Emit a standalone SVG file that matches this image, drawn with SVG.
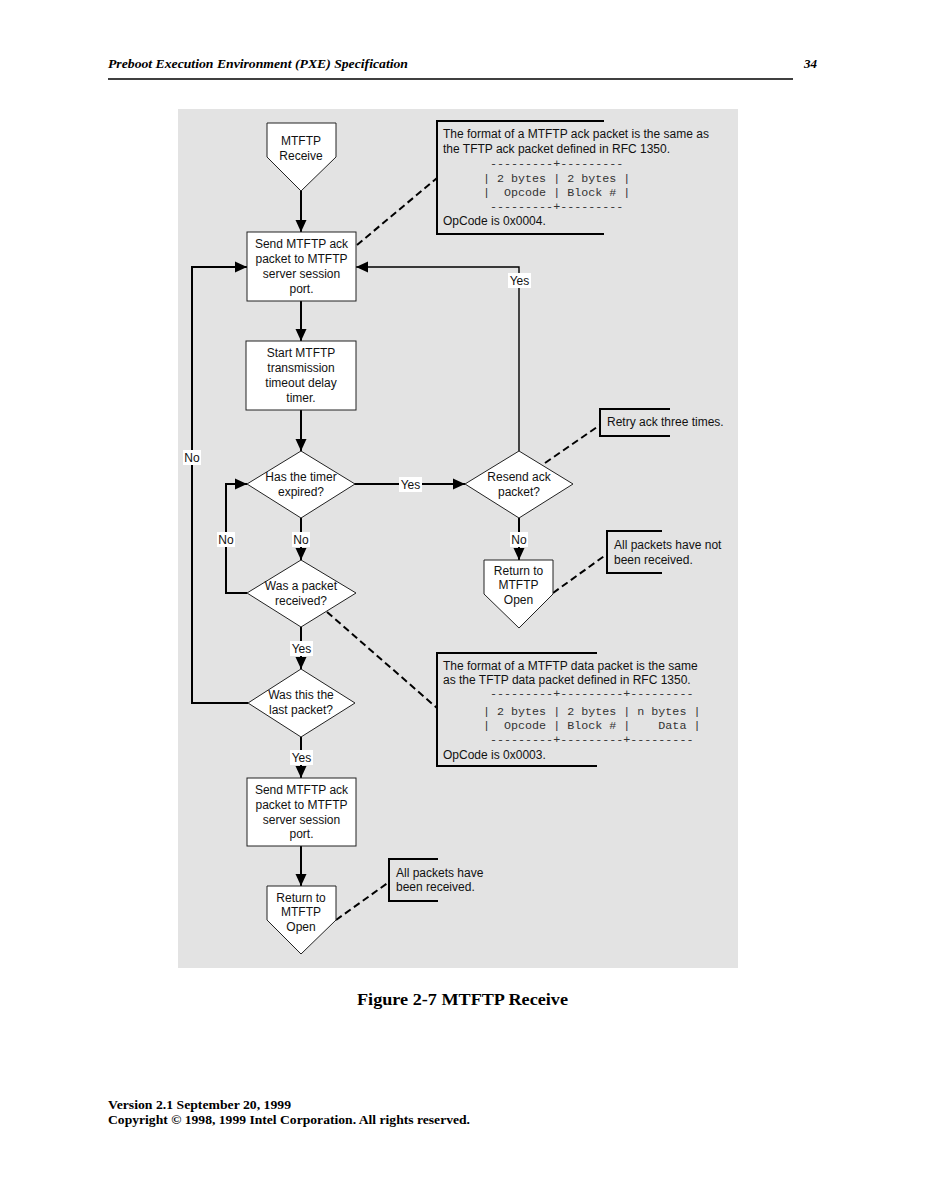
<svg xmlns="http://www.w3.org/2000/svg" width="926" height="1198" viewBox="0 0 926 1198">
<style>
.t{font-family:"Liberation Sans",Arial,sans-serif;font-size:12px;fill:#111}
.c{text-anchor:middle}
.m{font-family:"Liberation Mono","Courier New",monospace;font-size:11.7px;fill:#333;white-space:pre}
.node{fill:#fff;stroke:#222;stroke-width:1}
.ln{fill:none;stroke:#000;stroke-width:2}
.thin{fill:none;stroke:#000;stroke-width:1.4}
.dash{fill:none;stroke:#000;stroke-width:2;stroke-dasharray:7,4}
.br{fill:none;stroke:#000;stroke-width:2}
.lb{fill:#fff}
.hd{font-family:"Liberation Serif","Times New Roman",serif;font-weight:bold}
</style>
<defs>
<marker id="ah" markerUnits="userSpaceOnUse" markerWidth="13" markerHeight="12" refX="12" refY="6" orient="auto">
<path d="M0,0.5 L12,6 L0,11.5 z" fill="#000"/>
</marker>
</defs>
<rect width="926" height="1198" fill="#fff"/>
<g id="header">
<text class="hd" x="108" y="68" font-size="13" font-style="italic" textLength="300" lengthAdjust="spacingAndGlyphs">Preboot Execution Environment (PXE) Specification</text>
<text class="hd" x="817" y="68" font-size="13" font-style="italic" text-anchor="end">34</text>
<line x1="108" y1="79" x2="793" y2="79" stroke="#000" stroke-width="1.5"/>
</g>
<rect x="178" y="109" width="560" height="859" fill="#e3e3e3"/>

<g id="connectors">
<path class="ln" d="M301,191 V232" marker-end="url(#ah)"/>
<path class="ln" d="M301,301 V341" marker-end="url(#ah)"/>
<path class="ln" d="M301,410 V451" marker-end="url(#ah)"/>
<path class="ln" d="M354,484 H465" marker-end="url(#ah)"/>
<path class="ln" d="M301,518 V560" marker-end="url(#ah)"/>
<path class="ln" d="M519,518 V560" marker-end="url(#ah)"/>
<path class="ln" d="M247,593 H226 V484 H247" marker-end="url(#ah)"/>
<path class="ln" d="M301,627 V669" marker-end="url(#ah)"/>
<path class="ln" d="M248,703 H192 V267 H247" marker-end="url(#ah)"/>
<path class="thin" d="M519,451 V267 H356" marker-end="url(#ah)"/>
<path class="ln" d="M301,737 V778" marker-end="url(#ah)"/>
<path class="ln" d="M301,846 V886" marker-end="url(#ah)"/>
<path class="dash" d="M357,245 L437,178"/>
<path class="dash" d="M545,463 L600,425"/>
<path class="dash" d="M553,593 L607,554"/>
<path class="dash" d="M327,612 L437,708"/>
<path class="dash" d="M336,920 L389,882"/>
<g id="labels">
<rect class="lb" x="508" y="273" width="23" height="15"/><text class="t c" x="519.5" y="285">Yes</text>
<rect class="lb" x="399" y="477" width="23" height="15"/><text class="t c" x="410.5" y="489">Yes</text>
<rect class="lb" x="183" y="450" width="18" height="15"/><text class="t c" x="192" y="462">No</text>
<rect class="lb" x="217" y="532" width="18" height="15"/><text class="t c" x="226" y="544">No</text>
<rect class="lb" x="292" y="532" width="18" height="15"/><text class="t c" x="301" y="544">No</text>
<rect class="lb" x="510" y="532" width="18" height="15"/><text class="t c" x="519" y="544">No</text>
<rect class="lb" x="290" y="641" width="23" height="15"/><text class="t c" x="301.5" y="653">Yes</text>
<rect class="lb" x="290" y="750" width="23" height="15"/><text class="t c" x="301.5" y="762">Yes</text>
</g>
</g>

<g id="start">
<polygon class="node" points="267,123 336,123 336,157 301,191 267,157"/>
<text class="t c" x="301" y="145">MTFTP</text>
<text class="t c" x="301" y="160">Receive</text>
</g>
<g id="send1">
<rect class="node" x="247" y="232" width="109" height="69"/>
<text class="t c" x="301.5" y="248">Send MTFTP ack</text>
<text class="t c" x="301.5" y="263">packet to MTFTP</text>
<text class="t c" x="301.5" y="278">server session</text>
<text class="t c" x="301.5" y="293">port.</text>
</g>
<g id="timer">
<rect class="node" x="246" y="341" width="110" height="69"/>
<text class="t c" x="301" y="357">Start MTFTP</text>
<text class="t c" x="301" y="372">transmission</text>
<text class="t c" x="301" y="387">timeout delay</text>
<text class="t c" x="301" y="402">timer.</text>
</g>
<g id="expired">
<polygon class="node" points="301,451 355,484 301,518 247,484"/>
<text class="t c" x="301" y="481">Has the timer</text>
<text class="t c" x="301" y="496">expired?</text>
</g>
<g id="resend">
<polygon class="node" points="519,451 573,484 519,518 465,484"/>
<text class="t c" x="519" y="481">Resend ack</text>
<text class="t c" x="519" y="496">packet?</text>
</g>
<g id="received">
<polygon class="node" points="301,560 356,593 301,627 247,593"/>
<text class="t c" x="301" y="590">Was a packet</text>
<text class="t c" x="301" y="605">received?</text>
</g>
<g id="return1">
<polygon class="node" points="484,560 553,560 553,594 519,628 484,594"/>
<text class="t c" x="518.5" y="575">Return to</text>
<text class="t c" x="518.5" y="589">MTFTP</text>
<text class="t c" x="518.5" y="604">Open</text>
</g>
<g id="last">
<polygon class="node" points="301,669 355,703 301,737 248,703"/>
<text class="t c" x="301" y="699">Was this the</text>
<text class="t c" x="301" y="714">last packet?</text>
</g>
<g id="send2">
<rect class="node" x="247" y="778" width="109" height="68"/>
<text class="t c" x="301.5" y="794">Send MTFTP ack</text>
<text class="t c" x="301.5" y="809">packet to MTFTP</text>
<text class="t c" x="301.5" y="824">server session</text>
<text class="t c" x="301.5" y="838">port.</text>
</g>
<g id="return2">
<polygon class="node" points="267,886 336,886 336,920 301,954 267,920"/>
<text class="t c" x="301" y="902">Return to</text>
<text class="t c" x="301" y="916">MTFTP</text>
<text class="t c" x="301" y="931">Open</text>
</g>

<g id="note-ack">
<path class="br" d="M604,121 H437 V234 H604"/>
<text class="t" x="443" y="138">The format of a MTFTP ack packet is the same as</text>
<text class="t" x="443" y="153">the TFTP ack packet defined in RFC 1350.</text>
<text class="m" x="483" y="167" xml:space="preserve"> ---------+---------</text>
<text class="m" x="483" y="182" xml:space="preserve">| 2 bytes | 2 bytes |</text>
<text class="m" x="483" y="196" xml:space="preserve">|  Opcode | Block # |</text>
<text class="m" x="483" y="210" xml:space="preserve"> ---------+---------</text>
<text class="t" x="443" y="225">OpCode is 0x0004.</text>
</g>
<g id="note-retry">
<path class="br" d="M670,409 H600 V436 H670"/>
<text class="t" x="607" y="426">Retry ack three times.</text>
</g>
<g id="note-notall">
<path class="br" d="M662,531 H607 V573 H662"/>
<text class="t" x="614" y="549">All packets have not</text>
<text class="t" x="614" y="564">been received.</text>
</g>
<g id="note-data">
<path class="br" d="M597,653 H437 V766 H597"/>
<text class="t" x="443" y="670">The format of a MTFTP data packet is the same</text>
<text class="t" x="443" y="684">as the TFTP data packet defined in RFC 1350.</text>
<text class="m" x="483" y="697" xml:space="preserve"> ---------+---------+---------</text>
<text class="m" x="483" y="715" xml:space="preserve">| 2 bytes | 2 bytes | n bytes |</text>
<text class="m" x="483" y="729" xml:space="preserve">|  Opcode | Block # |    Data |</text>
<text class="m" x="483" y="743" xml:space="preserve"> ---------+---------+---------</text>
<text class="t" x="443" y="759">OpCode is 0x0003.</text>
</g>
<g id="note-all">
<path class="br" d="M438,859 H389 V901 H438"/>
<text class="t" x="396" y="877">All packets have</text>
<text class="t" x="396" y="891">been received.</text>
</g>

<g id="footer">
<text class="hd" x="462.5" y="1005" font-size="17" text-anchor="middle" textLength="211" lengthAdjust="spacingAndGlyphs">Figure 2-7 MTFTP Receive</text>
<text class="hd" x="108" y="1109" font-size="12.5" textLength="183" lengthAdjust="spacingAndGlyphs">Version 2.1 September 20, 1999</text>
<text class="hd" x="108" y="1124" font-size="12.5" textLength="362" lengthAdjust="spacingAndGlyphs">Copyright © 1998, 1999 Intel Corporation. All rights reserved.</text>
</g>
</svg>
